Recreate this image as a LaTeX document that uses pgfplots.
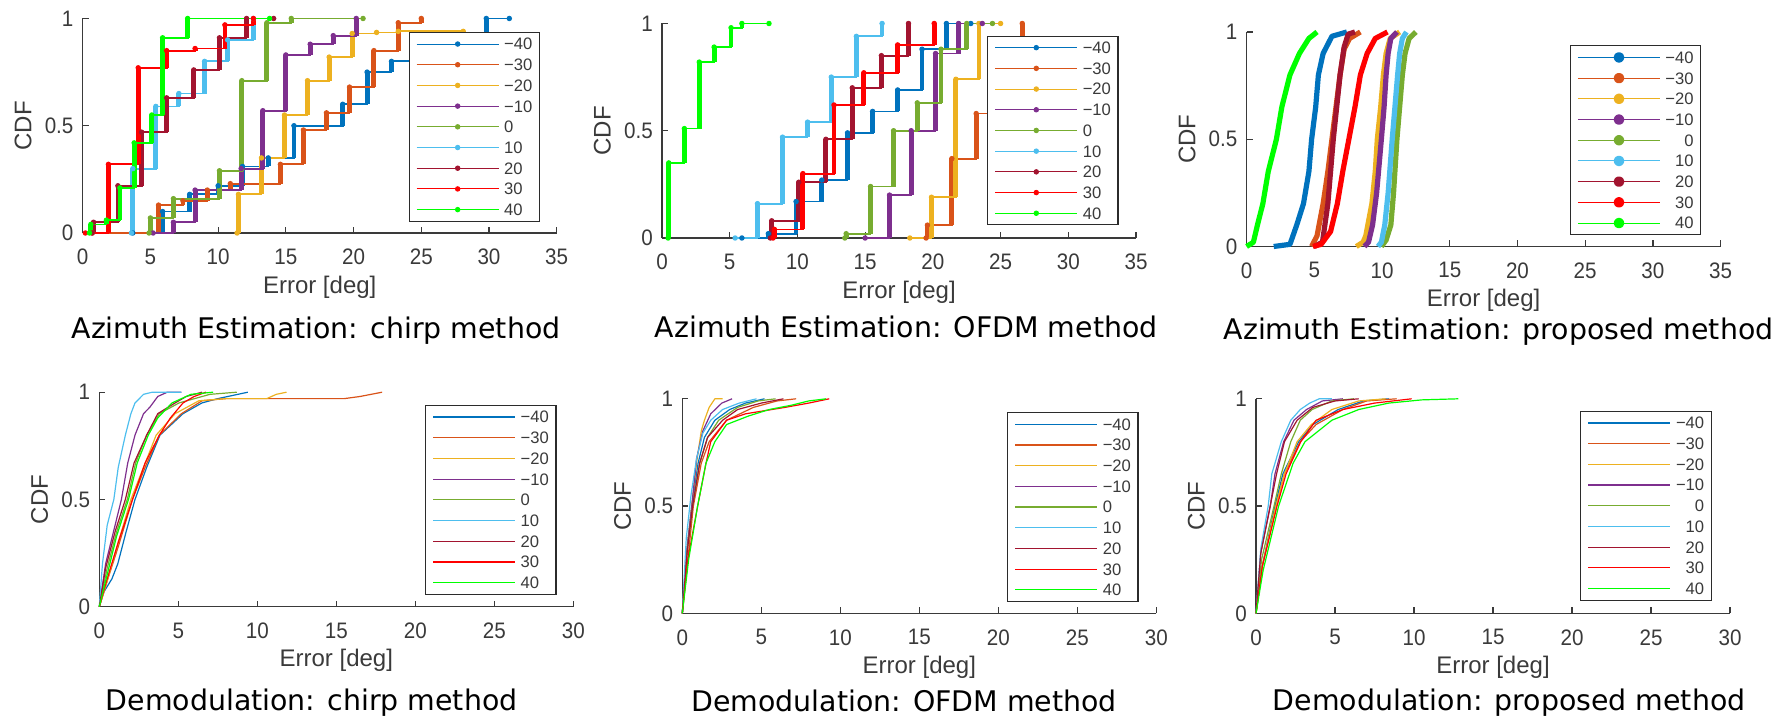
\documentclass[border=0pt]{standalone}
\usepackage{fontspec}
\setmainfont{Liberation Sans}
\newfontfamily\titlefont{DejaVu Sans}
\newfontfamily\narrowfont[FakeStretch=0.92]{Liberation Sans}
\usepackage{pgfplots}
\pgfplotsset{compat=1.18}
\definecolor{cA}{HTML}{0072BD}
\definecolor{cB}{HTML}{D95319}
\definecolor{cC}{HTML}{EDB120}
\definecolor{cD}{HTML}{7E2F8E}
\definecolor{cE}{HTML}{77AC30}
\definecolor{cF}{HTML}{4DBEEE}
\definecolor{cG}{HTML}{A2142F}
\definecolor{cH}{HTML}{FF0000}
\definecolor{cI}{HTML}{00FF00}
\definecolor{axgray}{HTML}{3A3A3A}
\definecolor{leggray}{HTML}{2B2B2B}
\newcommand\tickfont{\narrowfont\fontsize{11.2}{13}\selectfont}
\newcommand\labfont{\fontsize{12}{14}\selectfont}
\newcommand\legfont{\fontsize{8.3}{9}\selectfont}
\newcommand\ttlfont{\titlefont\fontsize{14.2}{17}\selectfont}
\pgfplotsset{
  cdf/.style={
    scale only axis, width=237pt, height=107.25pt,
    xmin=0, ymin=0, ymax=1, enlargelimits=false,
    axis x line*=bottom, axis y line*=left,
    axis line style={draw=axgray, line width=0.6pt},
    major tick style={draw=axgray, line width=0.6pt},
    tick align=inside, major tick length=3pt,
    ytick={0,0.5,1}, xtick distance=5,
    /pgf/number format/assume math mode=true,
    ticklabel style={font=\tickfont, text=axgray},
    xticklabel style={yshift=-4.5pt},
    yticklabel style={xshift=-1.1pt},
    xlabel={Error [deg]}, ylabel={CDF},
    label style={font=\labfont, text=axgray},
    xlabel style={at={(axis description cs:0.5,-0.2515)}, anchor=center},
    ylabel style={at={(axis description cs:-0.1258,0.5)}, anchor=center},
    clip=false,
    legend cell align=left,
    legend entries={−40,−30,−20,−10,0,10,20,30,40},
    legend style={anchor=north west, draw=leggray, line width=0.6pt, fill=white,
      font=\legfont, text=axgray, inner xsep=3.5pt, inner ysep=0.6pt,
      row sep=0pt, column sep=2.5pt,
      nodes={inner sep=0pt, text height=5.9pt, text depth=0pt, minimum height=10.35pt}},
  },
  stairax/.style={cdf,
    legend image code/.code={\draw[##1, line width=0.5pt, mark repeat=2, mark phase=2]
      plot coordinates {(0pt,0pt) (20.5pt,0pt) (41pt,0pt)};}},
  smoothax/.style={cdf,
    legend image code/.code={\draw[##1, line width=0.5pt] (0pt,0pt) -- (41pt,0pt);
      \fill[##1] (20.5pt,0pt) circle (1.35pt);}},
  thinax/.style={cdf,
    legend image code/.code={\draw[##1] (0pt,0pt) -- (41pt,0pt);}},
  stair/.style={const plot, mark=*, mark size=1.1pt, line width=0.9pt,
    mark options={line width=0.5pt, solid},
    error bars/y dir=minus, error bars/y explicit, error bars/error mark=none,
    error bars/error bar style={line width=2.4pt, solid}},
  smooth/.style={line width=2.6pt, mark=none, line join=round},
  thin/.style={line width=0.6pt, mark=none, line join=round},
}
\begin{document}
\begin{tikzpicture}
\useasboundingbox (0,0) rectangle (895.5pt,358.5pt);

% ---------------- Panel 1: Azimuth chirp ----------------
\begin{axis}[stairax, at={(41.35pt,242pt)}, anchor=south west, xmax=35,
  legend style={at={(axis description cs:0.6875,0.9376)}}]
\addplot[stair, color=cA] table[x=x,y=y,y error=d]{
x y d
3.7 0 0
5.9 0.10 0.10
7.9 0.18 0.08
10.0 0.22 0.04
11.8 0.31 0.09
13.7 0.35 0.04
15.6 0.50 0.15
19.2 0.60 0.10
21.0 0.75 0.15
22.8 0.80 0.05
29.8 1.00 0.20
31.5 1.00 0
};
\addplot[stair, color=cB] table[x=x,y=y,y error=d]{
x y d
0.7 0 0
5.6 0.13 0.13
7.4 0.15 0.02
9.2 0.20 0.05
10.9 0.23 0.03
14.6 0.32 0.09
16.3 0.48 0.16
18.0 0.56 0.08
19.7 0.68 0.12
21.5 0.85 0.17
23.3 0.98 0.13
25.0 1.00 0.02
};
\addplot[stair, color=cC] table[x=x,y=y,y error=d]{
x y d
11.4 0 0
11.5 0.18 0.18
13.2 0.35 0.17
14.9 0.55 0.20
16.6 0.71 0.16
18.2 0.82 0.11
19.9 0.93 0.11
21.7 0.935 0.005
23.3 0.94 0.005
28.1 0.94 0
};
\addplot[stair, color=cD] table[x=x,y=y,y error=d]{
x y d
5.2 0 0
6.7 0.05 0.05
8.3 0.20 0.15
11.7 0.30 0.10
13.3 0.57 0.27
15.0 0.83 0.26
16.8 0.88 0.05
18.5 0.92 0.04
20.2 1.00 0.08
};
\addplot[stair, color=cE] table[x=x,y=y,y error=d]{
x y d
4.9 0 0
5.0 0.07 0.07
6.7 0.16 0.09
10.1 0.29 0.13
11.75 0.71 0.42
13.6 0.98 0.27
15.4 1.00 0.02
20.7 1.00 0
};
\addplot[stair, color=cF] table[x=x,y=y,y error=d]{
x y d
3.6 0 0
3.7 0.30 0.30
5.4 0.59 0.29
7.1 0.65 0.06
9.0 0.80 0.15
10.7 0.90 0.10
12.6 1.00 0.10
};
\addplot[stair, color=cG] table[x=x,y=y,y error=d]{
x y d
0.7 0 0
0.8 0.05 0.05
2.6 0.22 0.17
4.35 0.47 0.25
6.2 0.63 0.16
8.2 0.76 0.13
10.1 0.91 0.15
12.1 1.00 0.09
14.1 1.00 0
};
\addplot[stair, color=cH] table[x=x,y=y,y error=d]{
x y d
0.2 0 0
1.9 0.32 0.32
4.1 0.77 0.45
6.2 0.85 0.08
8.3 0.86 0.01
10.5 0.97 0.11
12.6 1.00 0.03
};
\addplot[stair, color=cI] table[x=x,y=y,y error=d]{
x y d
0.5 0 0
0.6 0.04 0.04
1.75 0.06 0.02
2.75 0.21 0.15
3.8 0.42 0.21
5.1 0.55 0.13
5.9 0.91 0.36
7.75 1.00 0.09
13.8 1.00 0
};
\end{axis}

% ---------------- Panel 2: Azimuth OFDM ----------------
\begin{axis}[stairax, at={(331pt,239.5pt)}, anchor=south west, xmax=35,
  legend style={at={(axis description cs:0.686,0.944)}}]
\addplot[stair, color=cA] table[x=x,y=y,y error=d]{
x y d
5.9 0 0
7.85 0.02 0.02
9.9 0.17 0.15
11.8 0.27 0.10
13.7 0.49 0.22
15.55 0.59 0.10
17.4 0.69 0.10
19.2 0.88 0.19
21.0 1.00 0.12
22.8 1.00 0
};
\addplot[stair, color=cB] table[x=x,y=y,y error=d]{
x y d
19.5 0 0
19.6 0.06 0.06
21.4 0.37 0.31
23.2 0.58 0.21
25.0 0.80 0.22
26.6 1.00 0.20
};
\addplot[stair, color=cC] table[x=x,y=y,y error=d]{
x y d
18.3 0 0
19.9 0.19 0.19
21.7 0.74 0.55
23.4 1.00 0.26
25.0 1.00 0
};
\addplot[stair, color=cD] table[x=x,y=y,y error=d]{
x y d
15.0 0 0
16.8 0.20 0.20
18.4 0.50 0.30
20.2 0.86 0.36
21.9 1.00 0.14
23.65 1.00 0
};
\addplot[stair, color=cE] table[x=x,y=y,y error=d]{
x y d
13.5 0 0
13.6 0.02 0.02
15.4 0.24 0.22
17.1 0.50 0.26
18.85 0.63 0.13
20.6 0.88 0.25
22.5 1.00 0.12
24.4 1.00 0
};
\addplot[stair, color=cF] table[x=x,y=y,y error=d]{
x y d
5.4 0 0
7.05 0.16 0.16
8.9 0.47 0.31
10.75 0.54 0.07
12.5 0.75 0.21
14.35 0.94 0.19
16.25 1.00 0.06
};
\addplot[stair, color=cG] table[x=x,y=y,y error=d]{
x y d
8.0 0 0
8.1 0.08 0.08
10.1 0.26 0.18
12.1 0.46 0.20
14.05 0.70 0.24
16.2 0.85 0.15
18.2 1.00 0.15
};
\addplot[stair, color=cH] table[x=x,y=y,y error=d]{
x y d
8.2 0 0
8.3 0.04 0.04
10.4 0.30 0.26
12.7 0.62 0.32
14.9 0.77 0.15
17.4 0.90 0.13
20.1 1.00 0.10
};
\addplot[stair, color=cI] table[x=x,y=y,y error=d]{
x y d
0.45 0 0
0.5 0.35 0.35
1.65 0.51 0.16
2.75 0.82 0.31
3.85 0.89 0.07
5.1 0.98 0.09
5.9 1.00 0.02
7.9 1.00 0
};
\end{axis}

% ---------------- Panel 3: Azimuth proposed ----------------
\begin{axis}[smoothax, at={(623.3pt,235.25pt)}, anchor=south west, xmax=35,
  legend cell align=right,
  legend style={at={(axis description cs:0.682,0.938)}}]
\addplot[smooth, color=cA] coordinates {(2.0,0)(3.2,0.01)(3.7,0.1)(4.2,0.2)(4.6,0.35)(4.8,0.5)(5.1,0.65)(5.3,0.8)(5.65,0.9)(6.3,0.98)(7.4,1.0)};
\addplot[smooth, color=cB] coordinates {(4.8,0)(5.2,0.05)(5.65,0.2)(6.0,0.35)(6.3,0.5)(6.6,0.65)(6.9,0.8)(7.2,0.92)(7.6,0.97)(8.4,1.0)};
\addplot[smooth, color=cC] coordinates {(8.1,0)(8.6,0.02)(8.8,0.05)(9.25,0.2)(9.5,0.35)(9.65,0.5)(9.9,0.65)(10.1,0.8)(10.3,0.9)(10.6,0.97)(11.3,1.0)};
\addplot[smooth, color=cD] coordinates {(8.7,0)(9.0,0.02)(9.3,0.1)(9.6,0.25)(9.95,0.5)(10.15,0.65)(10.3,0.8)(10.45,0.9)(10.65,0.97)(11.1,1.0)};
\addplot[smooth, color=cE] coordinates {(9.95,0)(10.3,0.03)(10.65,0.1)(10.85,0.25)(11.1,0.5)(11.3,0.65)(11.5,0.8)(11.7,0.9)(12.0,0.97)(12.5,1.0)};
\addplot[smooth, color=cF] coordinates {(9.7,0)(9.95,0.02)(10.2,0.1)(10.45,0.25)(10.75,0.5)(10.95,0.65)(11.15,0.8)(11.3,0.9)(11.5,0.97)(11.8,1.0)};
\addplot[smooth, color=cG] coordinates {(5.0,0)(5.6,0.02)(6.0,0.2)(6.2,0.35)(6.4,0.5)(6.65,0.65)(6.9,0.8)(7.2,0.93)(7.5,0.99)(8.0,1.0)};
\addplot[smooth, color=cH] coordinates {(4.9,0)(5.5,0.01)(6.2,0.07)(6.7,0.2)(7.1,0.35)(7.55,0.5)(8.0,0.65)(8.4,0.8)(8.9,0.9)(9.5,0.97)(10.4,1.0)};
\addplot[smooth, color=cI] coordinates {(0,0)(0.5,0.02)(0.8,0.1)(1.2,0.2)(1.6,0.35)(2.2,0.5)(2.6,0.65)(3.2,0.8)(3.9,0.9)(4.6,0.97)(5.2,1.0)};
\end{axis}

% ---------------- Panel 4: Demodulation chirp ----------------
\begin{axis}[thinax, at={(49.65pt,55.15pt)}, anchor=south west, xmax=30,
  legend style={at={(axis description cs:0.687,0.941)}}]
\addplot[thin, color=cA] coordinates {(0,0)(0.3,0.07)(0.8,0.13)(1.17,0.2)(1.7,0.35)(2.26,0.5)(3.0,0.65)(3.84,0.8)(5.3,0.9)(6.5,0.95)(7.5,0.97)(9.4,1.0)};
\addplot[thin, color=cB] coordinates {(0,0)(0.5,0.12)(1.2,0.28)(2.1,0.5)(2.9,0.65)(3.8,0.8)(5.2,0.9)(6.5,0.96)(8,0.97)(15.5,0.97)(16.5,0.98)(17.9,1.0)};
\addplot[thin, color=cC] coordinates {(0,0)(0.5,0.12)(1.2,0.3)(2.0,0.5)(2.8,0.65)(3.6,0.8)(4.8,0.9)(6.3,0.96)(8,0.97)(10.6,0.97)(11.2,0.99)(11.85,1.0)};
\addplot[thin, color=cD] coordinates {(0,0)(0.4,0.2)(0.9,0.35)(1.4,0.5)(1.8,0.67)(2.26,0.8)(2.8,0.9)(3.2,0.93)(3.7,0.98)(4.3,1.0)(5.2,1.0)};
\addplot[thin, color=cE] coordinates {(0,0)(0.5,0.18)(1.1,0.35)(1.77,0.5)(2.3,0.67)(3.0,0.8)(3.8,0.9)(5.05,0.95)(7,0.99)(8.7,1.0)};
\addplot[thin, color=cF] coordinates {(0,0)(0.2,0.2)(0.5,0.38)(0.92,0.5)(1.2,0.65)(1.65,0.8)(2.0,0.9)(2.26,0.95)(2.8,0.99)(3.35,1.0)(5.2,1.0)};
\addplot[thin, color=cG] coordinates {(0,0)(0.4,0.18)(1.0,0.35)(1.65,0.5)(2.2,0.67)(3.0,0.8)(3.7,0.9)(4.8,0.95)(5.5,0.98)(6.5,1.0)};
\addplot[thin, color=cH] coordinates {(0,0)(0.5,0.13)(1.2,0.3)(2.1,0.5)(2.9,0.67)(3.8,0.8)(4.5,0.88)(5.3,0.95)(6,0.98)(6.75,1.0)};
\addplot[thin, color=cI] coordinates {(0,0)(0.5,0.15)(1.1,0.33)(1.85,0.5)(2.4,0.67)(3.1,0.8)(3.7,0.88)(4.6,0.95)(5.8,0.99)(7.2,1.0)};
\end{axis}

% ---------------- Panel 5: Demodulation OFDM ----------------
\begin{axis}[thinax, at={(341.15pt,51.85pt)}, anchor=south west, xmax=30,
  legend style={at={(axis description cs:0.685,0.938)}}]
\addplot[thin, color=cA] coordinates {(0,0)(0.3,0.3)(0.6,0.5)(1.0,0.7)(1.4,0.82)(2.06,0.9)(3.0,0.95)(4.0,0.98)(5.2,1.0)};
\addplot[thin, color=cB] coordinates {(0,0)(0.35,0.25)(0.7,0.5)(1.2,0.7)(1.7,0.8)(2.8,0.9)(4.5,0.96)(6,0.99)(7.2,1.0)};
\addplot[thin, color=cC] coordinates {(0,0)(0.3,0.3)(0.6,0.5)(0.9,0.7)(1.2,0.85)(1.4,0.9)(1.7,0.96)(2.06,1.0)(2.55,1.0)};
\addplot[thin, color=cD] coordinates {(0,0)(0.3,0.3)(0.6,0.5)(0.9,0.72)(1.3,0.85)(1.8,0.93)(2.5,0.98)(3.15,1.0)};
\addplot[thin, color=cE] coordinates {(0,0)(0.3,0.28)(0.65,0.5)(1.1,0.7)(1.6,0.82)(2.3,0.9)(3.5,0.96)(4.8,0.99)(5.9,1.0)};
\addplot[thin, color=cF] coordinates {(0,0)(0.25,0.35)(0.55,0.55)(0.9,0.72)(1.3,0.84)(1.8,0.9)(2.55,0.95)(3.6,0.98)(4.7,1.0)};
\addplot[thin, color=cG] coordinates {(0,0)(0.3,0.28)(0.65,0.5)(1.1,0.7)(1.6,0.82)(2.55,0.9)(3.5,0.95)(5,0.98)(6.4,1.0)};
\addplot[thin, color=cH] coordinates {(0,0)(0.35,0.25)(0.97,0.5)(1.5,0.7)(1.8,0.8)(2.8,0.9)(4.0,0.93)(6.5,0.96)(8,0.98)(9.3,1.0)};
\addplot[thin, color=cI] coordinates {(0,0)(0.4,0.25)(0.97,0.5)(1.5,0.7)(2.06,0.8)(2.8,0.88)(3.5,0.9)(4.2,0.92)(5.5,0.95)(6.9,0.97)(8,0.99)(9.1,1.0)};
\end{axis}

% ---------------- Panel 6: Demodulation proposed ----------------
\begin{axis}[thinax, at={(628pt,51.85pt)}, anchor=south west, xmax=30,
  legend cell align=right,
  legend style={at={(axis description cs:0.684,0.944)}}]
\addplot[thin, color=cA] coordinates {(0,0)(0.4,0.22)(1.2,0.5)(1.7,0.65)(2.7,0.8)(3.6,0.88)(5.2,0.95)(6.8,0.99)(8.4,1.0)};
\addplot[thin, color=cB] coordinates {(0,0)(0.4,0.22)(1.26,0.5)(1.8,0.65)(2.8,0.8)(3.8,0.88)(5.5,0.95)(7,0.99)(8.9,1.0)};
\addplot[thin, color=cC] coordinates {(0,0)(0.4,0.22)(1.26,0.5)(1.8,0.65)(2.6,0.8)(3.5,0.88)(4.8,0.95)(6.5,0.99)(8.2,1.0)};
\addplot[thin, color=cD] coordinates {(0,0)(0.3,0.28)(0.9,0.5)(1.2,0.65)(1.75,0.8)(2.4,0.9)(3.2,0.95)(4.2,0.99)(5.5,1.0)};
\addplot[thin, color=cE] coordinates {(0,0)(0.35,0.25)(1.14,0.5)(1.6,0.65)(2.2,0.8)(2.8,0.9)(3.55,0.95)(4.8,0.99)(6.2,1.0)};
\addplot[thin, color=cF] coordinates {(0,0)(0.3,0.3)(0.77,0.5)(1.0,0.65)(1.6,0.8)(2.2,0.9)(2.8,0.95)(3.4,0.98)(4.0,1.0)(4.8,1.0)};
\addplot[thin, color=cG] coordinates {(0,0)(0.3,0.28)(0.9,0.5)(1.3,0.65)(1.8,0.8)(2.6,0.9)(3.6,0.96)(5,0.99)(6.5,1.0)};
\addplot[thin, color=cH] coordinates {(0,0)(0.4,0.22)(1.33,0.5)(1.9,0.65)(2.83,0.8)(3.8,0.9)(5.5,0.95)(7.5,0.98)(9.85,1.0)};
\addplot[thin, color=cI] coordinates {(0,0)(0.45,0.2)(1.43,0.5)(2.35,0.7)(3.1,0.8)(4.8,0.9)(6.5,0.95)(8.4,0.98)(10.5,0.995)(12.8,1.0)};
\end{axis}

% ---------------- Titles ----------------
\node[font=\ttlfont, anchor=base] at (158pt,189pt) {Azimuth Estimation: chirp method};
\node[font=\ttlfont, anchor=base] at (453.1pt,189.85pt) {Azimuth Estimation: OFDM method};
\node[font=\ttlfont, anchor=base] at (749.3pt,188.85pt) {Azimuth Estimation: proposed method};
\node[font=\ttlfont, anchor=base] at (155.8pt,3.15pt) {Demodulation: chirp method};
\node[font=\ttlfont, anchor=base] at (452.1pt,2.65pt) {Demodulation: OFDM method};
\node[font=\ttlfont, anchor=base] at (754.6pt,3.5pt) {Demodulation: proposed method};
\end{tikzpicture}
\end{document}
